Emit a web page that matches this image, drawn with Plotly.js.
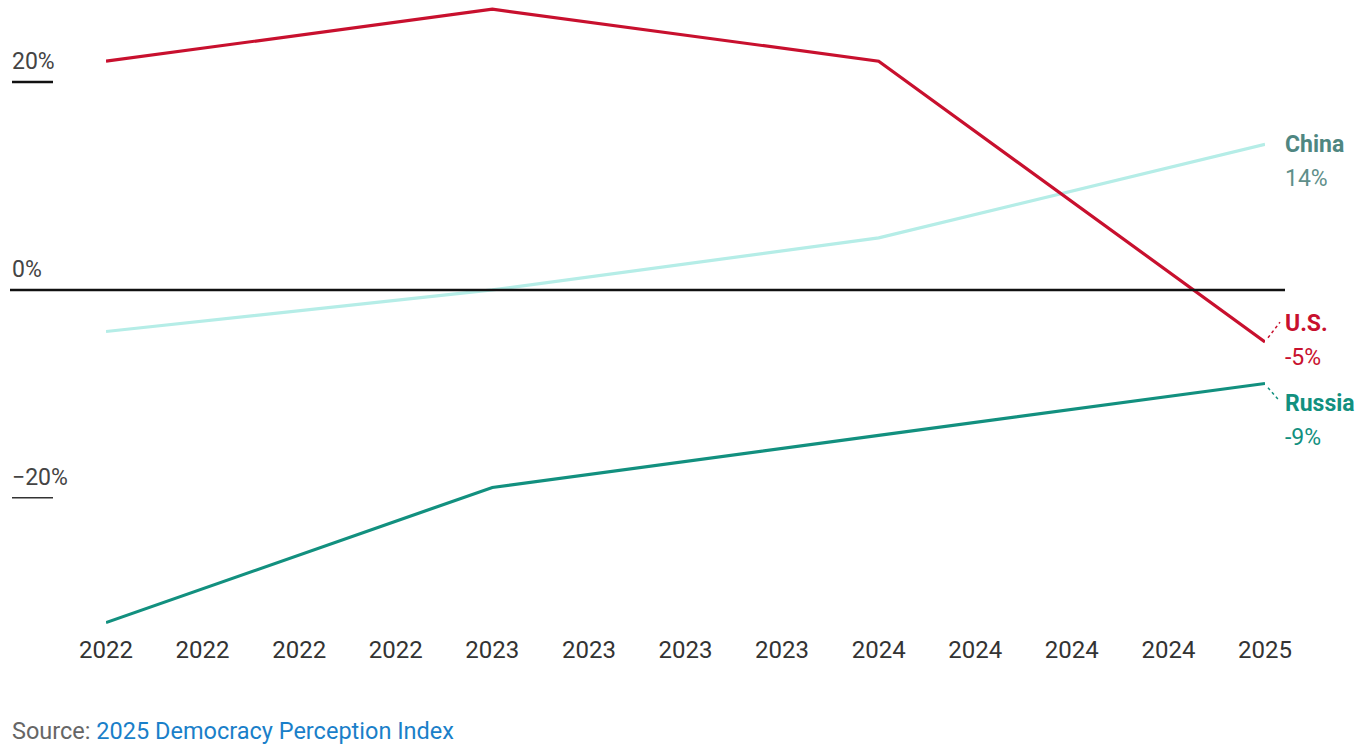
<!DOCTYPE html>
<html>
<head>
<meta charset="utf-8">
<script src="https://cdn.plot.ly/plotly-3.0.1.min.js"></script>
<style>
html,body{margin:0;padding:0;background:#fff;}
#chart{width:1371px;height:750px;}
</style>
</head>
<body>
<div id="chart"></div>
<script>
// Data
const years = [2022, 2023, 2024, 2025];
const usValues = [22, 27, 22, -5];
const chinaValues = [-4, 0, 5, 14];
const russiaValues = [-32, -19, -14, -9];
const tickPositions = [2022, 2022.25, 2022.5, 2022.75, 2023, 2023.25, 2023.5, 2023.75, 2024, 2024.25, 2024.5, 2024.75, 2025];
const tickLabels = ['2022','2022','2022','2022','2023','2023','2023','2023','2024','2024','2024','2024','2025'];
const yTickValues = [20, 0, -20];
const yTickLabels = ['20%', '0%', '\u221220%'];

const RED = '#c8102e', CHINA = '#b5ede7', RUSSIA = '#12907f';
const FONT = 'Roboto, "Noto Sans", sans-serif';

const traces = [
  {x: years, y: chinaValues, name: 'China', mode: 'lines', line: {color: CHINA, width: 3.2}, cliponaxis: false, hoverinfo: 'skip'},
  {x: years, y: russiaValues, name: 'Russia', mode: 'lines', line: {color: RUSSIA, width: 3.2}, cliponaxis: false, hoverinfo: 'skip'},
  {x: years, y: usValues, name: 'U.S.', mode: 'lines', line: {color: RED, width: 3.2}, cliponaxis: false, hoverinfo: 'skip'}
];

const plotL = 106, plotR = 1265;
const pw = plotR - plotL;
const px = p => (p - plotL) / pw;

const annotations = [];
yTickValues.forEach((v, i) => {
  annotations.push({xref: 'paper', yref: 'y', x: px(10), y: v, xanchor: 'left', yanchor: 'bottom',
    yshift: 5, text: yTickLabels[i], showarrow: false, font: {family: FONT, size: 23, color: '#444'}});
});
const last = years.length - 1;
function endLabel(name, val, color, numColor, dy) {
  annotations.push({xref: 'paper', yref: 'y', x: px(1283), y: val, xanchor: 'left', yanchor: 'middle',
    yshift: dy, text: '<b>' + name + '</b>', showarrow: false, font: {family: FONT, size: 23, color: color}});
  annotations.push({xref: 'paper', yref: 'y', x: px(1283), y: val, xanchor: 'left', yanchor: 'middle',
    yshift: dy - 34, text: (val < 0 ? '-' : '') + Math.abs(val) + '%', showarrow: false, font: {family: FONT, size: 23, color: numColor}});
}
endLabel('China', chinaValues[last], '#4f8681', '#5f8f8a', 0);
endLabel('U.S.', usValues[last], RED, RED, 18);
endLabel('Russia', russiaValues[last], RUSSIA, RUSSIA, -20);

annotations.push({xref: 'paper', yref: 'paper', x: px(10), y: 0, yshift: -98, xanchor: 'left', yanchor: 'middle',
  text: '<span style="color:#666">Source: </span><span style="color:#1a7fc9">2025 Democracy Perception Index</span>',
  showarrow: false, font: {family: FONT, size: 23.5, color: '#666'}});

const shapes = [
  {type: 'line', xref: 'paper', yref: 'y', x0: px(10), x1: px(1285), y0: 0, y1: 0, line: {color: '#111', width: 2.5}},
  {type: 'line', xref: 'paper', yref: 'y', x0: px(12), x1: px(53), y0: 20, y1: 20, line: {color: '#111', width: 2.5}},
  {type: 'line', xref: 'paper', yref: 'y', x0: px(12), x1: px(53), y0: -20, y1: -20, line: {color: '#333', width: 1.5}},
  // dotted connectors from line ends to labels
  {type: 'line', xref: 'paper', yref: 'y', x0: px(1268), x1: px(1280), y0: usValues[last] + 0.4, y1: usValues[last] + 1.9, line: {color: RED, width: 1.5, dash: 'dot'}},
  {type: 'line', xref: 'paper', yref: 'y', x0: px(1268), x1: px(1278), y0: russiaValues[last] - 0.4, y1: russiaValues[last] - 1.5, line: {color: RUSSIA, width: 1.5, dash: 'dot'}}
];

const layout = {
  width: 1371, height: 750,
  margin: {l: plotL, r: 1371 - plotR, t: 4, b: 117},
  paper_bgcolor: '#fff', plot_bgcolor: '#fff',
  showlegend: false,
  xaxis: {range: [2022, 2025], tickvals: tickPositions, ticktext: tickLabels, showgrid: false, zeroline: false,
    showline: false, ticks: '', ticklen: 0,
    tickfont: {family: FONT, size: 24, color: '#333'}, fixedrange: true},
  yaxis: {range: [-33, 27.5], showgrid: false, zeroline: false, showticklabels: false, showline: false, fixedrange: true},
  annotations: annotations,
  shapes: shapes
};

Plotly.newPlot('chart', traces, layout, {displayModeBar: false, staticPlot: true});
</script>
</body>
</html>
